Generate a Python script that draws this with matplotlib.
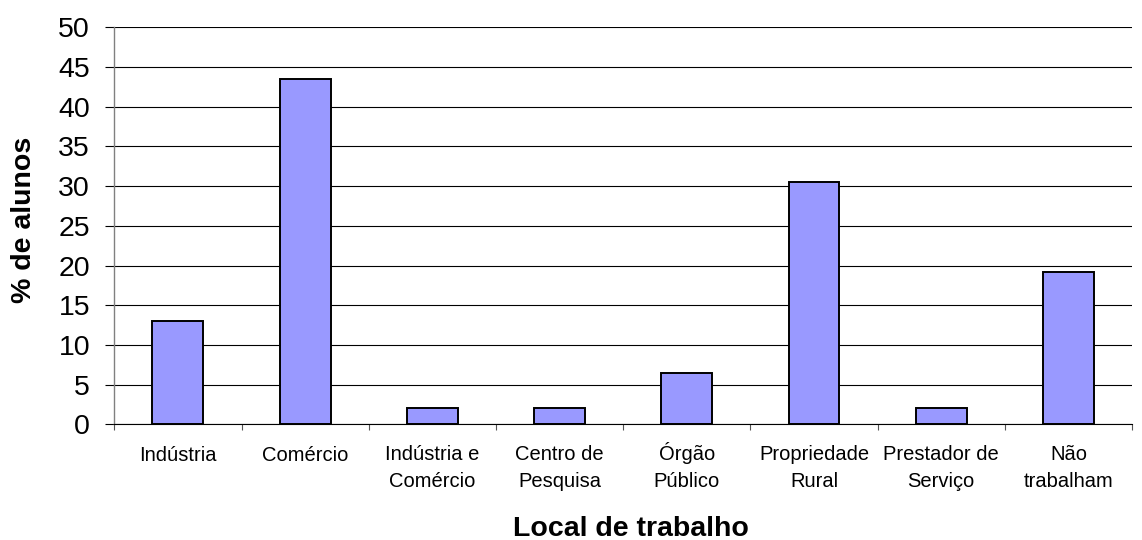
import matplotlib
matplotlib.use("Agg")
import matplotlib.pyplot as plt
import matplotlib.transforms as mtransforms
import numpy as np

categories = ["Indústria", "Comércio", "Indústria e\nComércio", "Centro de\nPesquisa",
              "Órgão\nPúblico", "Propriedade\nRural", "Prestador de\nServiço", "Não\ntrabalham"]
values = [13.0, 43.5, 2.1, 2.1, 6.5, 30.5, 2.1, 19.2]
yticks = [0, 5, 10, 15, 20, 25, 30, 35, 40, 45, 50]

plt.rcParams['font.family'] = ['Liberation Sans', 'DejaVu Sans']

fig = plt.figure(figsize=(11.42, 5.40), dpi=100)
ax = fig.add_axes([0.1001, 0.2142, 0.8912, 0.7352])

x = np.arange(len(categories))
ax.bar(x, values, width=0.4, color="#9999FF", edgecolor="black", linewidth=1.4, zorder=3)

ax.set_xlim(-0.5, len(categories) - 0.5)
ax.set_ylim(0, 50)
ax.set_yticks(yticks)
ax.set_yticklabels([str(v) for v in yticks], fontsize=20.5)
ax.tick_params(axis='y', direction='out', length=6.5, width=0.8, pad=11, color='black')

for v in yticks:
    ax.axhline(v, color='black', linewidth=0.8, zorder=1)

# category labels: first-line baseline ~37px below axis, lines 26px apart
ax.set_xticks(x)
ax.set_xticklabels([])
ax.tick_params(axis='x', which='major', length=0)
ax.set_xticks(np.arange(-0.5, len(categories), 1.0), minor=True)
ax.tick_params(axis='x', which='minor', direction='out', length=4.5, width=0.8, color='#555555')

base = mtransforms.blended_transform_factory(ax.transData, ax.transAxes)
for xi, lab in zip(x, categories):
    n = lab.count("\n") + 1
    off_px = 36.7 + 26.0 * (n - 1)
    tr = base + mtransforms.ScaledTranslation(0, -off_px / 100.0, fig.dpi_scale_trans)
    ax.text(xi, 0, lab, transform=tr, ha='center', va='baseline', fontsize=14.5,
            linespacing=1.53, multialignment='center')

for s in ['top', 'right']:
    ax.spines[s].set_visible(False)
ax.spines['left'].set_color('#808080')
ax.spines['left'].set_linewidth(1.0)
ax.spines['bottom'].set_color('black')
ax.spines['bottom'].set_linewidth(0.8)

fig.text(0.5525, 0.007, "Local de trabalho", fontsize=20.5, fontweight='bold',
         ha='center', va='baseline')
fig.text(0.021, 0.592, "% de alunos", fontsize=20.5, fontweight='bold',
         ha='center', va='center', rotation=90)

fig.savefig("out.png", dpi=100)
